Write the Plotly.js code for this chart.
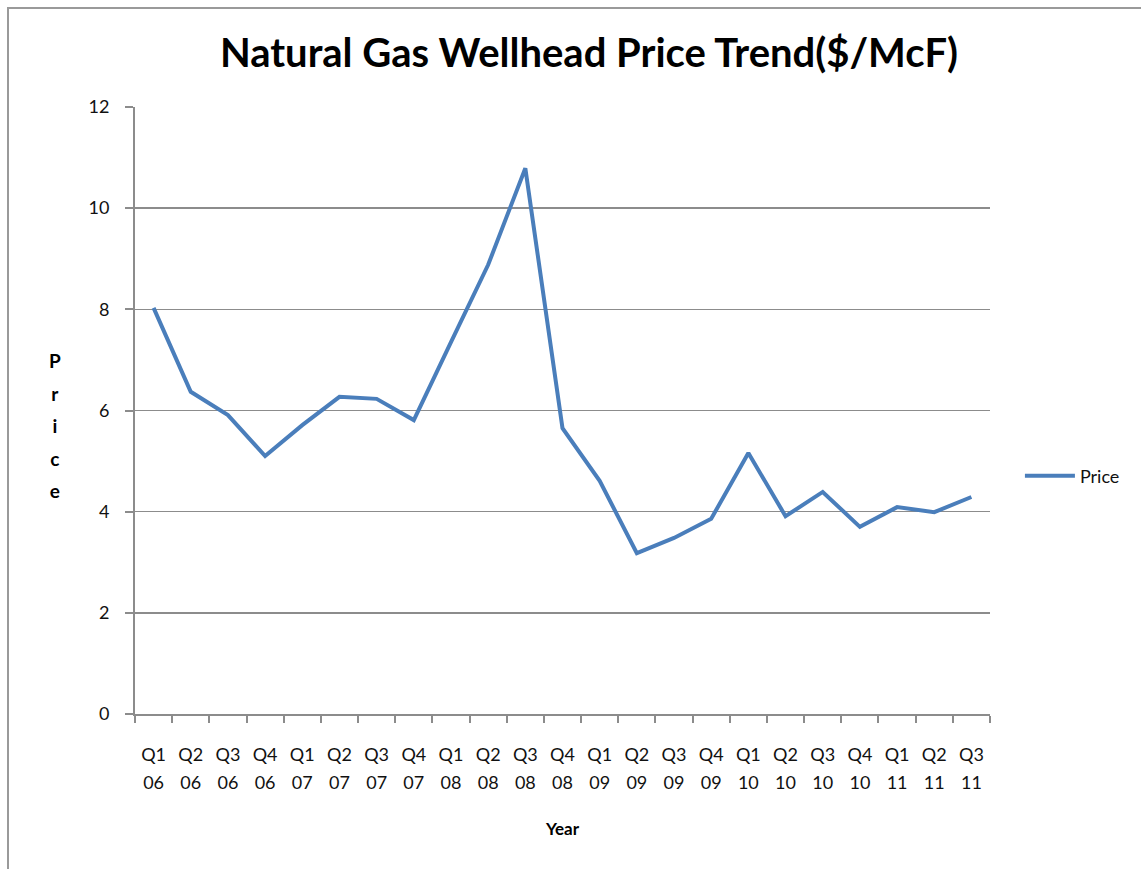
<!DOCTYPE html>
<html>
<head>
<meta charset="utf-8">
<script src="https://cdn.plot.ly/plotly-3.0.1.min.js"></script>
<style>
  html, body { margin: 0; padding: 0; background: #fff; }
  #wrap { position: relative; width: 1141px; height: 869px; overflow: hidden; }
  #chart { position: absolute; left: 0; top: 0; width: 1141px; height: 869px; }
  #frame { position: absolute; left: 7px; top: 7px; width: 1200px; height: 900px;
           border-left: 2px solid #9a9a9a; border-top: 2px solid #9a9a9a; pointer-events: none; }
</style>
</head>
<body>
<div id="wrap">
  <div id="chart"></div>
  <div id="frame"></div>
</div>
<script>
// ---- data ----
const quarters = ["Q1","Q2","Q3","Q4","Q1","Q2","Q3","Q4","Q1","Q2","Q3","Q4",
                  "Q1","Q2","Q3","Q4","Q1","Q2","Q3","Q4","Q1","Q2","Q3"];
const years = ["06","06","06","06","07","07","07","07","08","08","08","08",
               "09","09","09","09","10","10","10","10","11","11","11"];
const prices = [8.03, 6.37, 5.91, 5.10, 5.71, 6.27, 6.23, 5.81, 7.35, 8.88, 10.79, 5.65,
                4.61, 3.18, 3.48, 3.86, 5.16, 3.91, 4.39, 3.70, 4.09, 3.99, 4.29];
const categories = quarters.map((q, i) => q + " " + years[i]);
const yTicks = [0, 2, 4, 6, 8, 10, 12];

const FONT = "Lato, 'Open Sans', sans-serif";
const GRID = "#8c8c8c";
const TICKFONT = { family: FONT, size: 18, color: "#111" };

const traces = [
  {
    x: categories, y: prices, type: "scatter", mode: "lines", name: "Price",
    line: { color: "#4A7EBB", width: 4 }, xaxis: "x", yaxis: "y"
  },
  {
    x: categories, y: prices, type: "scatter", mode: "lines", name: "yr",
    line: { color: "rgba(0,0,0,0)", width: 0 }, showlegend: false, hoverinfo: "skip",
    xaxis: "x2", yaxis: "y"
  }
];

const L = "<span style='font-size:19px'>";
const layout = {
  width: 1141, height: 869,
  paper_bgcolor: "#ffffff", plot_bgcolor: "#ffffff",
  margin: { l: 135, r: 151, t: 107, b: 155 },
  font: { family: FONT, size: 15, color: "#000" },
  title: {
    text: "<b>Natural Gas Wellhead Price Trend($/McF)</b>",
    font: { family: FONT, size: 40, color: "#000" },
    x: 0.531, xanchor: "center", xref: "paper",
    y: 0.939, yanchor: "middle"
  },
  xaxis: {
    type: "category",
    tickmode: "array", tickvals: categories, ticktext: quarters,
    tickson: "boundaries",
    ticks: "outside", ticklen: 7, tickcolor: GRID, tickwidth: 2,
    showline: true, linecolor: GRID, linewidth: 2,
    showgrid: false, zeroline: false,
    tickfont: TICKFONT,
    ticklabelstandoff: 23,
    range: [-0.5, 22.5],
    title: { text: "<b>Year</b>", font: { family: FONT, size: 17, color: "#000" }, standoff: 60 }
  },
  xaxis2: {
    type: "category", overlaying: "x", anchor: "y", side: "bottom", matches: "x",
    tickmode: "array", tickvals: categories, ticktext: years,
    ticks: "", showline: false, showgrid: false, zeroline: false,
    tickfont: TICKFONT,
    ticklabelstandoff: 56
  },
  yaxis: {
    range: [0, 12], tickmode: "array", tickvals: yTicks,
    ticks: "outside", ticklen: 8, tickcolor: GRID, tickwidth: 2,
    showline: true, linecolor: GRID, linewidth: 2,
    showgrid: true, gridcolor: GRID, gridwidth: 1.5, zeroline: false,
    tickfont: TICKFONT,
    ticklabelstandoff: 12
  },
  legend: {
    x: 1.035, xanchor: "left", y: 0.392, yanchor: "middle",
    font: { family: FONT, size: 18, color: "#111" },
    itemwidth: 50, bgcolor: "rgba(0,0,0,0)"
  },
  annotations: [
    {
      text: "<b>" + ["P","r","i","c","e"].map(ch => L + ch + "</span>").join("<br>") + "</b>",
      xref: "paper", yref: "paper", x: -0.094, y: 0.4745,
      xanchor: "center", yanchor: "middle", showarrow: false, textangle: 0,
      font: { family: FONT, size: 25, color: "#000" }
    }
  ]
};

Plotly.newPlot("chart", traces, layout, { displayModeBar: false, staticPlot: true });
</script>
</body>
</html>
